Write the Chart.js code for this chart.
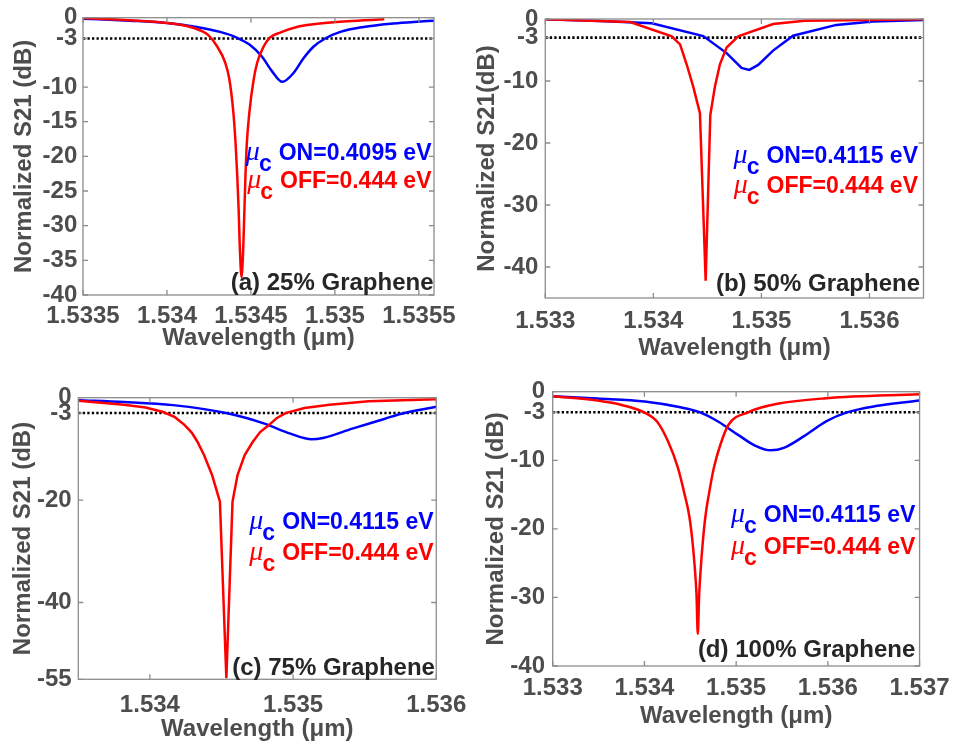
<!DOCTYPE html>
<html>
<head>
<meta charset="utf-8">
<script src="https://cdn.jsdelivr.net/npm/chart.js@4.4.1/dist/chart.umd.min.js"></script>
<style>
  body { margin: 0; background: #fff; width: 960px; height: 748px; overflow: hidden; position: relative; }
  canvas { position: absolute; }
</style>
</head>
<body>
<canvas id="pa" width="480" height="372" style="left:0;top:0"></canvas>
<canvas id="pb" width="490" height="372" style="left:470px;top:0"></canvas>
<canvas id="pc" width="480" height="376" style="left:0;top:372px"></canvas>
<canvas id="pd" width="490" height="376" style="left:470px;top:372px"></canvas>
<script>
// ---- data (wavelength in um, normalized S21 in dB) ----
// (a) 25% graphene
const aOnX  = [1.5335, 1.533779, 1.534, 1.534177, 1.534316, 1.534415, 1.534495, 1.534565, 1.534624, 1.534687, 1.534753, 1.534813, 1.534872, 1.534942, 1.535032, 1.535171, 1.53533, 1.535469, 1.53559];
const aOnY  = [-0.14, -0.43, -0.76, -1.33, -2.05, -2.86, -3.95, -5.6, -7.67, -9.25, -8.0, -5.86, -4.19, -3.0, -2.05, -1.33, -0.86, -0.62, -0.43];
const aOffX = [1.5335, 1.533779, 1.534, 1.534117, 1.534196, 1.534246, 1.534296, 1.534346, 1.534371, 1.534395, 1.534409, 1.534419, 1.534427, 1.534433, 1.534444, 1.534455, 1.534461, 1.534467, 1.534475, 1.534491, 1.534517, 1.534538, 1.534578, 1.534614, 1.534674, 1.534773, 1.534872, 1.535072, 1.535294];
const aOffY = [-0.05, -0.38, -0.76, -1.19, -1.81, -2.52, -4.05, -6.43, -8.81, -13.57, -18.33, -23.1, -27.86, -32.6, -37.4, -32.6, -27.86, -23.1, -18.33, -13.57, -8.81, -6.43, -4.05, -2.86, -2.14, -1.33, -0.95, -0.52, -0.24];
const aXTicks = [1.5335, 1.534, 1.5345, 1.535, 1.5355];
const aXLabels = ['1.5335', '1.534', '1.5345', '1.535', '1.5355'];
const aYTicks = [-40, -35, -30, -25, -20, -15, -10, -3, 0];
const aYMin = -40;

// (b) 50% graphene
const bOnX  = [1.533, 1.533508, 1.533985, 1.534462, 1.534678, 1.534816, 1.534887, 1.53497, 1.535108, 1.535293, 1.535693, 1.536031, 1.5365];
const bOnY  = [-0.05, -0.32, -0.7, -2.75, -5.5, -7.9, -8.2, -7.4, -5.1, -2.7, -0.95, -0.42, -0.16];
const bOffX = [1.533, 1.533785, 1.53417, 1.534247, 1.534308, 1.534369, 1.534431, 1.534484, 1.534527, 1.53457, 1.534616, 1.534678, 1.534785, 1.535108, 1.5354, 1.5365];
const bOffY = [-0.05, -0.5, -2.8, -4.1, -7.3, -10.9, -15.2, -42.2, -15.5, -10.9, -7.3, -4.6, -2.8, -0.8, -0.3, -0.05];
const bXTicks = [1.533, 1.534, 1.535, 1.536];
const bXLabels = ['1.533', '1.534', '1.535', '1.536'];
const bYTicks = [-40, -30, -20, -10, -3, 0];
const bYMin = -45;

// (c) 75% graphene
const cOnX  = [1.5335, 1.533819, 1.534161, 1.534549, 1.5348, 1.534981, 1.53513, 1.535209, 1.535414, 1.535642, 1.535756, 1.536];
const cOnY  = [-0.5, -0.84, -1.45, -3.1, -5.07, -7.02, -8.12, -7.86, -6.05, -4.1, -3.12, -1.78];
const cOffX = [1.5335, 1.533819, 1.53397, 1.534093, 1.534175, 1.534241, 1.534292, 1.534332, 1.534378, 1.534434, 1.534489, 1.534534, 1.534577, 1.534612, 1.534662, 1.534719, 1.53477, 1.534833, 1.534885, 1.534947, 1.53508, 1.535255, 1.535528, 1.536];
const cOffY = [-0.6, -1.36, -1.9, -2.8, -3.8, -5.3, -6.8, -8.6, -11.2, -15.1, -20.3, -54.8, -20.3, -15.1, -11.2, -8.6, -6.7, -5.3, -4.0, -3.0, -2.0, -1.36, -0.71, -0.31];
const cXTicks = [1.534, 1.535, 1.536];
const cXLabels = ['1.534', '1.535', '1.536'];
const cYTicks = [-55, -40, -20, -3, 0];
const cYMin = -55;

// (d) 100% graphene
const dOnX  = [1.533, 1.533486, 1.534003, 1.534378, 1.534593, 1.534807, 1.535021, 1.5352, 1.535379, 1.53552, 1.535736, 1.535986, 1.5362, 1.536522, 1.537];
const dOnY  = [-0.67, -1.0, -1.43, -2.24, -2.95, -4.38, -6.29, -7.81, -8.55, -8.19, -6.52, -4.29, -3.05, -2.1, -1.29];
const dOffX = [1.533, 1.533486, 1.533772, 1.533986, 1.534139, 1.534257, 1.534364, 1.534436, 1.53449, 1.534525, 1.53455, 1.534568, 1.534582, 1.534597, 1.534614, 1.534636, 1.534665, 1.534704, 1.534758, 1.534829, 1.534915, 1.53513, 1.53545, 1.535986, 1.537];
const dOffY = [-0.67, -1.29, -2.0, -2.95, -4.38, -7.24, -11.05, -14.86, -18.2, -22, -25.8, -29.6, -35.3, -29.6, -25.8, -22, -18.2, -14.86, -11.05, -7.7, -4.86, -3.0, -1.76, -0.95, -0.38];
const dXTicks = [1.533, 1.534, 1.535, 1.536, 1.537];
const dXLabels = ['1.533', '1.534', '1.535', '1.536', '1.537'];
const dYTicks = [-40, -30, -20, -10, -3, 0];
const dYMin = -40;

const threeDb = -3;

// ---- styling ----
const SANS = '"Liberation Sans", Arial, Helvetica, sans-serif';
const GRAY = '#4d4d4d';

function pts(xs, ys) {
  return xs.map((x, i) => ({x: x, y: ys[i]}));
}

// MATLAB-like box with inward ticks on all four sides
const boxPlugin = {
  id: 'box',
  afterDraw(chart) {
    const {ctx, chartArea: a, scales} = chart;
    ctx.save();
    ctx.strokeStyle = '#8c8c8c';
    ctx.lineWidth = 1.3;
    ctx.strokeRect(a.left, a.top, a.right - a.left, a.bottom - a.top);
    ctx.beginPath();
    scales.x.ticks.forEach(t => {
      const p = scales.x.getPixelForValue(t.value);
      ctx.moveTo(p, a.bottom); ctx.lineTo(p, a.bottom - 5);
      ctx.moveTo(p, a.top); ctx.lineTo(p, a.top + 5);
    });
    scales.y.ticks.forEach(t => {
      const p = scales.y.getPixelForValue(t.value);
      ctx.moveTo(a.left, p); ctx.lineTo(a.left + 5, p);
      ctx.moveTo(a.right, p); ctx.lineTo(a.right - 5, p);
    });
    ctx.stroke();
    ctx.restore();
  }
};

function muLine(ctx, right, base, text, color) {
  ctx.fillStyle = color;
  ctx.textBaseline = 'alphabetic';
  ctx.textAlign = 'right';
  ctx.font = 'bold 23px ' + SANS;
  ctx.fillText(text, right, base);
  let x = right - ctx.measureText(text).width - 7;
  ctx.fillText('c', x, base + 11);
  x -= ctx.measureText('c').width;
  ctx.font = 'italic 28px "Liberation Serif", "DejaVu Serif", serif';
  ctx.fillText('\u03bc', x + 1, base);
}

const notesPlugin = {
  id: 'notes',
  afterDraw(chart, args, o) {
    const {ctx, chartArea: a} = chart;
    ctx.save();
    muLine(ctx, a.right - o.right, a.top + o.onBase, o.onText, '#0000ff');
    muLine(ctx, a.right - o.right, a.top + o.offBase, 'OFF=0.444 eV', '#ff0000');
    ctx.font = 'bold 24px ' + SANS;
    ctx.fillStyle = '#262626';
    ctx.textAlign = 'right';
    ctx.fillText(o.label, a.right - o.labelRight, a.bottom + o.labelBase);
    ctx.restore();
  }
};

function makePanel(id, p) {
  const cv = document.getElementById(id);
  const W = cv.width, H = cv.height;
  const line = (data, color, order, smooth) => ({
    data: data, showLine: true, borderColor: color, borderWidth: 2.5,
    pointRadius: 0, fill: false, order: order,
    tension: 0, cubicInterpolationMode: smooth ? 'monotone' : 'default'
  });
  new Chart(cv, {
    type: 'scatter',
    data: {
      datasets: [
        line(pts(p.offX, p.offY), '#ff0000', 1, p.smoothOff),
        line(pts(p.onX, p.onY), '#0000ff', 2, p.smoothOn),
        {
          data: [{x: p.xMin, y: threeDb}, {x: p.xMax, y: threeDb}],
          showLine: true, borderColor: '#000000', borderWidth: 2.6,
          borderDash: [2.3, 2.2], pointRadius: 0, order: 3
        }
      ]
    },
    options: {
      responsive: false,
      animation: false,
      layout: { padding: { left: 0, top: p.area.top, right: W - p.area.right, bottom: 0 } },
      plugins: {
        legend: { display: false },
        tooltip: { enabled: false },
        notes: p.notes
      },
      scales: {
        x: {
          type: 'linear', min: p.xMin, max: p.xMax,
          grid: { display: false, drawTicks: false },
          border: { display: false },
          afterBuildTicks: s => { s.ticks = p.xTicks.map(v => ({value: v})); },
          afterFit: s => { s.height = H - p.area.bottom; },
          ticks: {
            autoSkip: false, maxRotation: 0, minRotation: 0, padding: p.xTickPad,
            color: GRAY, font: { family: SANS, size: 24, weight: 'bold', lineHeight: 1 },
            callback: (v, i) => p.xLabels[i]
          },
          title: {
            display: true, text: 'Wavelength (\u03bcm)', color: GRAY,
            font: { family: SANS, size: 24, weight: 'bold', lineHeight: 1 },
            padding: { top: 0, bottom: p.xTitlePad }
          }
        },
        y: {
          type: 'linear', min: p.yMin, max: 0,
          grid: { display: false, drawTicks: false },
          border: { display: false },
          afterBuildTicks: s => { s.ticks = p.yTicks.map(v => ({value: v})); },
          afterFit: s => { s.width = p.area.left; },
          ticks: {
            padding: p.yTickPad, color: GRAY,
            font: { family: SANS, size: 24, weight: 'bold', lineHeight: 1 },
            callback: v => String(v)
          },
          title: {
            display: true, text: p.yTitle, color: GRAY,
            font: { family: SANS, size: 24, weight: 'bold', lineHeight: 1 },
            padding: { top: p.yTitlePad, bottom: 0 }
          }
        }
      }
    },
    plugins: [boxPlugin, notesPlugin]
  });
}

makePanel('pa', {
  onX: aOnX, onY: aOnY, offX: aOffX, offY: aOffY, smoothOn: true, smoothOff: true,
  xMin: 1.5335, xMax: 1.53559, xTicks: aXTicks, xLabels: aXLabels, yTicks: aYTicks, yMin: aYMin,
  yTitle: 'Normalized S21 (dB)',
  area: { left: 83, top: 15, right: 434, bottom: 295 },
  xTickPad: 9.7, xTitlePad: 21.6, yTickPad: 5.7, yTitlePad: 12.5,
  notes: { onText: 'ON=0.4095 eV', onBase: 142, offBase: 170, right: 2.5,
           label: '(a) 25% Graphene', labelBase: -5, labelRight: 0.5 }
});

makePanel('pb', {
  onX: bOnX, onY: bOnY, offX: bOffX, offY: bOffY, smoothOn: false, smoothOff: false,
  xMin: 1.533, xMax: 1.5365, xTicks: bXTicks, xLabels: bXLabels, yTicks: bYTicks, yMin: bYMin,
  yTitle: 'Normalized S21(dB)',
  area: { left: 75.3, top: 14, right: 453.5, bottom: 298 },
  xTickPad: 11.7, xTitlePad: 12, yTickPad: 7, yTitlePad: 5.5,
  notes: { onText: 'ON=0.4115 eV', onBase: 144.3, offBase: 174.3, right: 5.5,
           label: '(b) 50% Graphene', labelBase: -7.3, labelRight: 3.5 }
});

makePanel('pc', {
  onX: cOnX, onY: cOnY, offX: cOffX, offY: cOffY, smoothOn: true, smoothOff: false,
  xMin: 1.5335, xMax: 1.536, xTicks: cXTicks, xLabels: cXLabels, yTicks: cYTicks, yMin: cYMin,
  yTitle: 'Normalized S21 (dB)',
  area: { left: 78.3, top: 25.7, right: 444.3, bottom: 307.3 },
  xTickPad: 13.7, xTitlePad: 6.3, yTickPad: 6.6, yTitlePad: 11,
  notes: { onText: 'ON=0.4115 eV', onBase: 131.3, offBase: 162, right: 2.6,
           label: '(c) 75% Graphene', labelBase: -4.3, labelRight: 1.3 }
});

makePanel('pd', {
  onX: dOnX, onY: dOnY, offX: dOffX, offY: dOffY, smoothOn: true, smoothOff: true,
  xMin: 1.533, xMax: 1.537, xTicks: dXTicks, xLabels: dXLabels, yTicks: dYTicks, yMin: dYMin,
  yTitle: 'Normalized S21 (dB)',
  area: { left: 82.7, top: 14, right: 456, bottom: 294 },
  xTickPad: 10.4, xTitlePad: 19.3, yTickPad: 7.7, yTitlePad: 14,
  notes: { onText: 'ON=0.4115 eV', onBase: 130.7, offBase: 162.3, right: 4.3,
           label: '(d) 100% Graphene', labelBase: -9.3, labelRight: 4.3 }
});
</script>
</body>
</html>
